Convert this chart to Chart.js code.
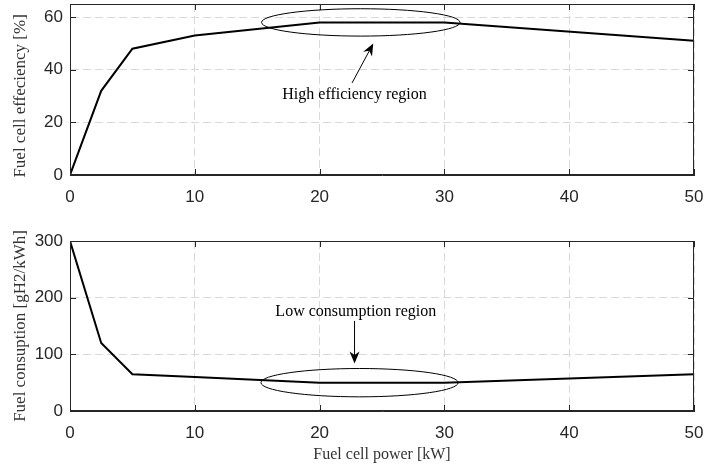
<!DOCTYPE html>
<html>
<head>
<meta charset="utf-8">
<script src="https://cdn.jsdelivr.net/npm/chart.js@4/dist/chart.umd.min.js"></script>
<style>
  body { margin: 0; background: #fff; }
  #wrap { position: relative; width: 705px; height: 469px; }
  #wrap div { position: absolute; left: 0; width: 705px; }
</style>
</head>
<body>
<div id="wrap">
  <div style="top:0; height:220px"><canvas id="effChart"></canvas></div>
  <div style="top:220px; height:249px"><canvas id="consChart"></canvas></div>
</div>
<script>
// data
const power = [0, 2.5, 5, 10, 20, 30, 50];
const efficiency = [0, 32, 48, 53, 58, 58, 51];
const consumption = [300, 120, 65, 60, 50, 50, 65];
const xTicks = [0, 10, 20, 30, 40, 50];

// annotations, in data units: [centre x, centre y, radius x, radius y]
const effEllipse = [23.3, 58, 7.95, 5.2];
const effArrow = [22.6, 35, 24.3, 50]; // from x,y to x,y
const effLabel = [22.8, 30.4, "High efficiency region"];
const consEllipse = [23.2, 50, 7.9, 25];
const consArrow = [22.8, 159, 22.8, 84];
const consLabel = [22.9, 175, "Low consumption region"];

const axisColor = "#262626";
const tickFont = { family: "Liberation Sans", size: 17 };

// box round the plot + inward tick marks, like matlab
const boxPlugin = {
    id: "box",
    afterDraw(chart) {
        const c = chart.ctx, a = chart.chartArea;
        const xs = chart.scales.x, ys = chart.scales.y;
        c.save();
        c.strokeStyle = axisColor;
        c.lineWidth = 1;
        c.strokeRect(a.left + 0.5, a.top + 0.5, a.right - a.left - 1, a.bottom - a.top - 1);
        c.beginPath();
        xs.ticks.forEach(t => {
            const px = Math.round(xs.getPixelForValue(t.value)) + 0.5;
            c.moveTo(px, a.bottom); c.lineTo(px, a.bottom - 6);
            c.moveTo(px, a.top); c.lineTo(px, a.top + 6);
        });
        ys.ticks.forEach(t => {
            const py = Math.round(ys.getPixelForValue(t.value)) + 0.5;
            c.moveTo(a.left, py); c.lineTo(a.left + 6, py);
            c.moveTo(a.right, py); c.lineTo(a.right - 6, py);
        });
        c.stroke();
        c.restore();
    }
};

// ellipse, arrow and text from chart options
const notePlugin = {
    id: "note",
    afterDraw(chart, args, opts) {
        const c = chart.ctx;
        const xs = chart.scales.x, ys = chart.scales.y;
        const e = opts.ellipse, ar = opts.arrow, lb = opts.label;
        c.save();
        c.strokeStyle = "#000";
        c.fillStyle = "#000";
        c.lineWidth = 1;
        // ellipse
        const cx = xs.getPixelForValue(e[0]), cy = ys.getPixelForValue(e[1]);
        const rx = Math.abs(xs.getPixelForValue(e[0] + e[2]) - cx);
        const ry = Math.abs(ys.getPixelForValue(e[1] + e[3]) - cy);
        c.beginPath();
        c.ellipse(cx, cy, rx, ry, 0, 0, Math.PI * 2);
        c.stroke();
        // arrow
        const x1 = xs.getPixelForValue(ar[0]), y1 = ys.getPixelForValue(ar[1]);
        const x2 = xs.getPixelForValue(ar[2]), y2 = ys.getPixelForValue(ar[3]);
        const ang = Math.atan2(y2 - y1, x2 - x1);
        const hl = 12, hw = 5;
        c.beginPath();
        c.moveTo(x1, y1);
        c.lineTo(x2 - hl * 0.7 * Math.cos(ang), y2 - hl * 0.7 * Math.sin(ang));
        c.stroke();
        c.beginPath();
        c.moveTo(x2, y2);
        c.lineTo(x2 - hl * Math.cos(ang) + hw * Math.sin(ang), y2 - hl * Math.sin(ang) - hw * Math.cos(ang));
        c.lineTo(x2 - hl * 0.7 * Math.cos(ang), y2 - hl * 0.7 * Math.sin(ang));
        c.lineTo(x2 - hl * Math.cos(ang) - hw * Math.sin(ang), y2 - hl * Math.sin(ang) + hw * Math.cos(ang));
        c.closePath();
        c.fill();
        // label
        c.font = "16px 'Liberation Serif'";
        c.textAlign = "center";
        c.textBaseline = "middle";
        c.fillText(lb[2], xs.getPixelForValue(lb[0]), ys.getPixelForValue(lb[1]));
        c.restore();
    }
};

function noPad(s) {
    s.paddingTop = 0; s.paddingBottom = 0; s.paddingLeft = 0; s.paddingRight = 0;
}

function makeChart(id, values, yMax, yStep, yTitle, showXTitle, padTop, xHeight, note) {
    return new Chart(document.getElementById(id), {
        type: "line",
        data: {
            datasets: [{
                data: power.map((p, i) => ({ x: p, y: values[i] })),
                borderColor: "#000",
                borderWidth: 2,
                pointRadius: 0,
                tension: 0
            }]
        },
        options: {
            responsive: true,
            maintainAspectRatio: false,
            animation: false,
            layout: { padding: { top: padTop, right: 11, left: 0, bottom: 0 } },
            plugins: {
                legend: { display: false },
                tooltip: { enabled: false },
                note: note
            },
            scales: {
                x: {
                    type: "linear",
                    min: 0,
                    max: 50,
                    afterBuildTicks: s => { s.ticks = xTicks.map(v => ({ value: v })); },
                    afterFit: s => { s.height = xHeight; noPad(s); },
                    ticks: { font: tickFont, color: axisColor, padding: 12, maxRotation: 0 },
                    grid: { color: "#d9d9d9", drawTicks: false },
                    border: { color: axisColor, dash: [8, 4] },
                    title: {
                        display: showXTitle,
                        text: "Fuel cell power [kW]",
                        font: { family: "Liberation Serif", size: 16 },
                        color: "#333",
                        padding: { top: 0, bottom: 5 }
                    }
                },
                y: {
                    min: 0,
                    max: yMax,
                    afterBuildTicks: s => {
                        const t = [];
                        for (let v = 0; v <= yMax; v += yStep) t.push({ value: v });
                        s.ticks = t;
                    },
                    afterFit: s => { s.width = 70; noPad(s); },
                    ticks: { font: tickFont, color: axisColor, padding: 7 },
                    grid: { color: "#d9d9d9", drawTicks: false },
                    border: { color: axisColor, dash: [8, 4] },
                    title: {
                        display: true,
                        text: yTitle,
                        font: { family: "Liberation Serif", size: 17 },
                        color: "#333",
                        padding: { top: 10, bottom: 0 }
                    }
                }
            }
        },
        plugins: [boxPlugin, notePlugin]
    });
}

makeChart("effChart", efficiency, 65, 20, "Fuel cell effeciency [%]\u00a0\u00a0\u00a0", false, 4, 45,
    { ellipse: effEllipse, arrow: effArrow, label: effLabel });
makeChart("consChart", consumption, 300, 100, "Fuel consuption [gH2/kWh]", true, 21, 58,
    { ellipse: consEllipse, arrow: consArrow, label: consLabel });
</script>
</body>
</html>
